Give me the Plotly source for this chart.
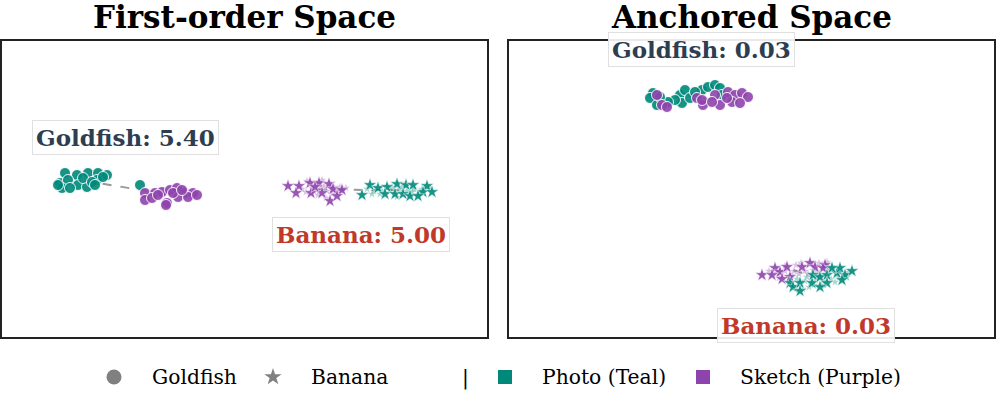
import numpy as np
import plotly.graph_objects as go

TEAL = "#00897b"
PURPLE = "#8e44ad"
GOLD_C = "#2c3e50"
BAN_C = "#c0392b"
FONT = "DejaVu Serif"

# ---------------- First-order space ----------------
fo_gold_photo_x = [63, 75, 86, 96, 105, 58, 66, 76, 85, 95, 60, 56, 81, 90, 101, 138, 68, 93]
fo_gold_photo_y = [164, 162, 164, 164, 162, 154, 157, 152, 150, 157, 149, 152, 159, 155, 160, 152, 149, 152]
fo_gold_sketch_x = [143, 153, 160, 168, 175, 183, 191, 143, 150, 165, 176, 186, 195, 156, 171, 180, 164]
fo_gold_sketch_y = [144, 144, 145, 147, 149, 144, 144, 137, 139, 134, 140, 140, 142, 142, 144, 147, 132]
fo_ban_sketch_x = [286, 297, 294, 308, 317, 327, 309, 320, 331, 340, 328, 335, 313]
fo_ban_sketch_y = [151, 151, 144, 154, 154, 153, 144, 144, 148, 147, 136, 141, 150]
fo_ban_photo_x = [360, 368, 376, 385, 395, 404, 411, 425, 421, 383, 393, 401, 408, 416, 430]
fo_ban_photo_y = [142, 152, 149, 150, 153, 152, 152, 151, 145, 143, 143, 143, 141, 141, 145]
fo_ban_sketch_aug_x = [300, 305, 312, 318, 322, 325, 332, 336, 304, 316, 324, 330, 338, 344, 310, 320]
fo_ban_sketch_aug_y = [148, 156, 146, 148, 151, 146, 150, 145, 145, 142, 139, 143, 150, 149, 149, 157]
fo_ban_photo_aug_x = [365, 372, 380, 388, 398, 405, 412, 420, 428, 378, 390, 400, 410, 418, 395, 370]
fo_ban_photo_aug_y = [148, 146, 146, 147, 148, 146, 148, 148, 149, 143, 150, 150, 145, 144, 140, 143]

# ---------------- Anchored space ----------------
an_gold_photo_x = [144, 141, 148, 171, 176, 173, 166, 193, 199, 206, 211, 213, 159, 181, 151, 186]
an_gold_photo_y = [244, 239, 232, 242, 247, 234, 237, 247, 250, 252, 249, 242, 235, 239, 240, 245]
an_gold_sketch_x = [148, 153, 158, 188, 194, 193, 206, 211, 219, 226, 233, 239, 223, 231, 218, 203]
an_gold_sketch_y = [242, 232, 230, 239, 232, 237, 242, 232, 245, 242, 244, 240, 235, 234, 239, 235]
an_ban_sketch_x = [253, 266, 271, 281, 273, 278, 293, 301, 306, 316, 314, 263]
an_ban_sketch_y = [62, 69, 65, 60, 58, 70, 70, 74, 70, 72, 69, 62]
an_ban_photo_x = [281, 284, 291, 291, 303, 304, 311, 318, 318, 328, 331, 336, 333, 343, 311, 323]
an_ban_photo_y = [54, 50, 54, 46, 54, 62, 60, 62, 54, 64, 69, 62, 57, 66, 50, 69]
an_ban_sketch_aug_x = [260, 268, 276, 285, 290, 296, 304, 310, 318, 287, 299, 282, 270, 308, 292, 276]
an_ban_sketch_aug_y = [66, 64, 66, 66, 63, 66, 67, 74, 75, 72, 63, 62, 59, 66, 74, 71]
an_ban_photo_aug_x = [288, 296, 300, 307, 314, 322, 330, 338, 298, 315, 326, 340, 305, 320, 294, 310]
an_ban_photo_aug_y = [58, 56, 50, 57, 56, 58, 60, 60, 60, 52, 55, 65, 52, 66, 48, 62]

panel_titles = ["First-order Space", "Anchored Space"]
gold_labels = ["Goldfish: 5.40", "Goldfish: 0.03"]
ban_labels = ["Banana: 5.00", "Banana: 0.03"]
gold_label_pos = [(123, 199), (192, 287)]
ban_label_pos = [(359, 102), (297, 12)]

legend_names = ["Goldfish", "Banana", "Photo (Teal)", "Sketch (Purple)"]

W, H = 996, 399
fig = go.Figure()

panels = [
    dict(gp=(fo_gold_photo_x, fo_gold_photo_y), gs=(fo_gold_sketch_x, fo_gold_sketch_y),
         bp=(fo_ban_photo_x, fo_ban_photo_y), bs=(fo_ban_sketch_x, fo_ban_sketch_y),
         bpa=(fo_ban_photo_aug_x, fo_ban_photo_aug_y), bsa=(fo_ban_sketch_aug_x, fo_ban_sketch_aug_y)),
    dict(gp=(an_gold_photo_x, an_gold_photo_y), gs=(an_gold_sketch_x, an_gold_sketch_y),
         bp=(an_ban_photo_x, an_ban_photo_y), bs=(an_ban_sketch_x, an_ban_sketch_y),
         bpa=(an_ban_photo_aug_x, an_ban_photo_aug_y), bsa=(an_ban_sketch_aug_x, an_ban_sketch_aug_y)),
]

for i, p in enumerate(panels):
    xa = "x" if i == 0 else "x2"
    ya = "y" if i == 0 else "y2"
    # centroid connecting lines
    for a, b in [(p["gp"], p["gs"]), (p["bs"], p["bp"])]:
        fig.add_trace(go.Scatter(
            x=[np.mean(a[0]), np.mean(b[0])], y=[np.mean(a[1]), np.mean(b[1])],
            mode="lines", line=dict(color="#999999", width=2, dash="dash"),
            xaxis=xa, yaxis=ya, showlegend=False, hoverinfo="skip"))
    # faint augmentation stars
    for key, col in [("bsa", PURPLE), ("bpa", TEAL)]:
        fig.add_trace(go.Scatter(
            x=p[key][0], y=p[key][1], mode="markers",
            marker=dict(symbol="star", size=6, color=col, opacity=0.35, line=dict(width=0)),
            xaxis=xa, yaxis=ya, showlegend=False, hoverinfo="skip"))
    # banana stars
    for key, col in [("bs", PURPLE), ("bp", TEAL)]:
        fig.add_trace(go.Scatter(
            x=p[key][0], y=p[key][1], mode="markers",
            marker=dict(symbol="star", size=10, color=col, opacity=0.9,
                        line=dict(width=0.5, color="white")),
            xaxis=xa, yaxis=ya, showlegend=False, hoverinfo="skip"))
    # goldfish circles
    for key, col in [("gp", TEAL), ("gs", PURPLE)]:
        fig.add_trace(go.Scatter(
            x=p[key][0], y=p[key][1], mode="markers",
            marker=dict(symbol="circle", size=11, color=col, opacity=0.9,
                        line=dict(width=1, color="white")),
            xaxis=xa, yaxis=ya, showlegend=False, hoverinfo="skip"))

# legend glyphs on an overlay axis
leg_sym_x = [114, 273, 505, 703]
leg_txt_x = [150, 309, 540, 738]
leg_symbols = ["circle", "star", "square", "square"]
leg_colors = ["#808080", "#808080", TEAL, PURPLE]
leg_sizes = [15, 13, 14, 14]
fig.add_trace(go.Scatter(
    x=leg_sym_x, y=[0.5] * 4, mode="markers",
    marker=dict(symbol=leg_symbols, size=leg_sizes, color=leg_colors, opacity=1,
                line=dict(width=0)),
    xaxis="x3", yaxis="y3", showlegend=False, hoverinfo="skip"))

annotations = []
for i in range(2):
    xa = "x" if i == 0 else "x2"
    ya = "y" if i == 0 else "y2"
    for txt, pos, col in [(gold_labels[i], gold_label_pos[i], GOLD_C), (ban_labels[i], ban_label_pos[i], BAN_C)]:
        annotations.append(dict(
            x=pos[0], y=pos[1], xref=xa, yref=ya, text="<b>%s</b>" % txt, showarrow=False,
            font=dict(family=FONT, size=23, color=col),
            bgcolor="rgba(255,255,255,0.9)", bordercolor="#e0e0e0", borderwidth=1, borderpad=3))

# titles
for i, t in enumerate(panel_titles):
    cx = (2 + 487) / 2 if i == 0 else (509 + 994) / 2
    annotations.append(dict(
        x=cx / W, y=1 - 17 / H, xref="paper", yref="paper", text="<b>%s</b>" % t,
        showarrow=False, font=dict(family=FONT, size=31, color="black"),
        xanchor="center", yanchor="middle"))

for name, tx in zip(legend_names, leg_txt_x):
    annotations.append(dict(
        x=tx, y=0.5, xref="x3", yref="y3", text=name, showarrow=False,
        font=dict(family=FONT, size=20.3, color="black"), xanchor="left", yanchor="middle"))
annotations.append(dict(
    x=465, y=0.5, xref="x3", yref="y3", text="|", showarrow=False,
    font=dict(family=FONT, size=20.3, color="black"), xanchor="center", yanchor="middle"))

ax_common = dict(showgrid=False, zeroline=False, showticklabels=False, ticks="",
                 showline=True, linecolor="#222222", linewidth=1.5, mirror=True)
ytop = 1 - 41 / H
ybot = 1 - 337 / H

fig.update_layout(
    width=W, height=H, margin=dict(l=0, r=0, t=0, b=0),
    paper_bgcolor="white", plot_bgcolor="white", showlegend=False,
    xaxis=dict(domain=[2 / W, 487 / W], range=[0, 485], **ax_common),
    yaxis=dict(domain=[ybot, ytop], range=[0, 296], **ax_common),
    xaxis2=dict(domain=[509 / W, 994 / W], range=[0, 485], anchor="y2", **ax_common),
    yaxis2=dict(domain=[ybot, ytop], range=[0, 296], anchor="x2", **ax_common),
    xaxis3=dict(domain=[0, 1], range=[0, W], visible=False, anchor="y3"),
    yaxis3=dict(domain=[1 - 392 / H, 1 - 362 / H], range=[0, 1], visible=False, anchor="x3"),
    annotations=annotations,
    font=dict(family=FONT),
)

fig.write_html("out.html", config={"displayModeBar": False},
               post_script="document.body.style.margin='0';")
